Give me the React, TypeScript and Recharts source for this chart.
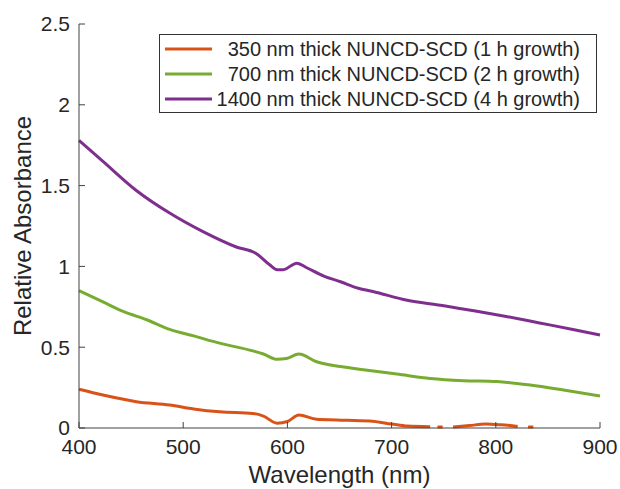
import React from 'react';
import { LineChart, Line, XAxis, YAxis, Legend } from 'recharts';

const xTicks = [400, 500, 600, 700, 800, 900];
const yTicks = [0, 0.5, 1, 1.5, 2, 2.5];

const seriesNames = [
  '350 nm thick NUNCD-SCD (1 h growth)',
  '700 nm thick NUNCD-SCD (2 h growth)',
  '1400 nm thick NUNCD-SCD (4 h growth)',
];
const seriesColors = ['#D95319', '#77AC30', '#7E2F8E'];

const orangeNm = [400, 423, 455, 487, 510, 535, 567, 577, 590, 600, 611, 628, 647, 679, 700, 715, 737, 738, 744, 749, 750, 759, 775, 790, 805, 821, 822, 831, 836];
const orangeVal: (number | null)[] = [0.24, 0.204, 0.163, 0.142, 0.118, 0.1, 0.09, 0.074, 0.03, 0.04, 0.08, 0.054, 0.05, 0.043, 0.025, 0.012, 0.008, null, 0.006, 0.006, null, 0.006, 0.015, 0.025, 0.02, 0.01, null, 0.006, 0.006];

const greenNm = [400, 423, 443, 465, 487, 510, 535, 567, 577, 590, 599, 611, 628, 651, 673, 705, 737, 769, 801, 820, 833, 865, 900];
const greenVal = [0.85, 0.78, 0.72, 0.67, 0.61, 0.57, 0.525, 0.477, 0.458, 0.425, 0.43, 0.458, 0.41, 0.38, 0.36, 0.334, 0.307, 0.293, 0.287, 0.276, 0.266, 0.235, 0.198];

const purpleNm = [400, 423, 455, 487, 519, 551, 570, 583, 590, 596, 609, 619, 635, 651, 668, 682, 715, 747, 779, 810, 842, 874, 900];
const purpleVal = [1.78, 1.65, 1.47, 1.33, 1.215, 1.12, 1.08, 1.01, 0.98, 0.98, 1.02, 0.99, 0.94, 0.905, 0.865, 0.845, 0.79, 0.76, 0.725, 0.69, 0.65, 0.61, 0.575];

const toPoints = (nm: number[], val: (number | null)[]) => nm.map((x, i) => ({ nm: x, v: val[i] }));

const orangeData = toPoints(orangeNm, orangeVal);
const greenData = toPoints(greenNm, greenVal);
const purpleData = toPoints(purpleNm, purpleVal);

const axisColor = '#404040';
const textColor = '#262626';
const font = '"Liberation Sans", Arial, sans-serif';
const X_MARGIN = 11;
const Y_MARGIN = 9;
const TICK_LEN = 6;

const XTick = (props: any) => {
  const { x, y, payload } = props;
  const axisY = y - X_MARGIN;
  return (
    <g>
      <line x1={x} x2={x} y1={axisY} y2={axisY - TICK_LEN} stroke={axisColor} strokeWidth={1} />
      <text x={x} y={y} dy="0.71em" textAnchor="middle" fontSize={21} fill={textColor} fontFamily={font}>
        {payload.value}
      </text>
    </g>
  );
};

const YTick = (props: any) => {
  const { x, y, payload } = props;
  const axisX = x + Y_MARGIN;
  return (
    <g>
      <line x1={axisX} x2={axisX + TICK_LEN} y1={y} y2={y} stroke={axisColor} strokeWidth={1} />
      <text x={x} y={y} dy="0.355em" textAnchor="end" fontSize={21} fill={textColor} fontFamily={font}>
        {payload.value}
      </text>
    </g>
  );
};

const renderLegend = (props: any) => {
  const payload = [...(props.payload || [])].sort(
    (a: any, b: any) => seriesNames.indexOf(a.value) - seriesNames.indexOf(b.value)
  );
  return (
    <svg width={438} height={79} style={{ display: 'block', fontFamily: font }}>
      <rect x={0.5} y={0.5} width={437} height={78} fill="#fff" stroke="#333" strokeWidth={1} />
      {payload.map((p: any, i: number) => (
        <g key={i}>
          <line x1={6} x2={53} y1={15 + i * 25} y2={15 + i * 25} stroke={p.color} strokeWidth={3} />
          <text x={421} y={22 + i * 25} textAnchor="end" fontSize={20} fill={textColor}>
            {p.value}
          </text>
        </g>
      ))}
    </svg>
  );
};

export default function App() {
  return (
    <div style={{ position: 'absolute', left: 0, top: 0, background: '#fff' }}>
      <LineChart
        width={620}
        height={489}
        margin={{ top: 24, right: 20, bottom: 0, left: 0 }}
        style={{ fontFamily: font }}
      >
        <XAxis
          dataKey="nm"
          type="number"
          domain={[400, 900]}
          ticks={xTicks}
          allowDuplicatedCategory={false}
          height={61}
          stroke={axisColor}
          tickLine={false}
          tickSize={0}
          tickMargin={X_MARGIN}
          tick={<XTick />}
          label={{ value: 'Wavelength (nm)', position: 'insideBottom', offset: 6, style: { fontSize: 24, fill: textColor } }}
        />
        <YAxis
          type="number"
          domain={[0, 2.5]}
          ticks={yTicks}
          width={79}
          stroke={axisColor}
          tickLine={false}
          tickSize={0}
          tickMargin={Y_MARGIN}
          tick={<YTick />}
          label={{ value: 'Relative Absorbance', angle: -90, position: 'insideLeft', offset: 22, style: { fontSize: 24, fill: textColor, textAnchor: 'middle' } }}
        />
        <Legend
          layout="horizontal"
          verticalAlign="middle"
          align="center"
          width={438}
          height={79}
          wrapperStyle={{ position: 'absolute', left: 159, top: 34, width: 438, height: 79 }}
          content={renderLegend}
        />
        <Line data={orangeData} dataKey="v" name={seriesNames[0]} stroke={seriesColors[0]} strokeWidth={3} dot={false} type="monotone" isAnimationActive={false} />
        <Line data={greenData} dataKey="v" name={seriesNames[1]} stroke={seriesColors[1]} strokeWidth={3} dot={false} type="monotone" isAnimationActive={false} />
        <Line data={purpleData} dataKey="v" name={seriesNames[2]} stroke={seriesColors[2]} strokeWidth={3} dot={false} type="monotone" isAnimationActive={false} />
      </LineChart>
    </div>
  );
}
